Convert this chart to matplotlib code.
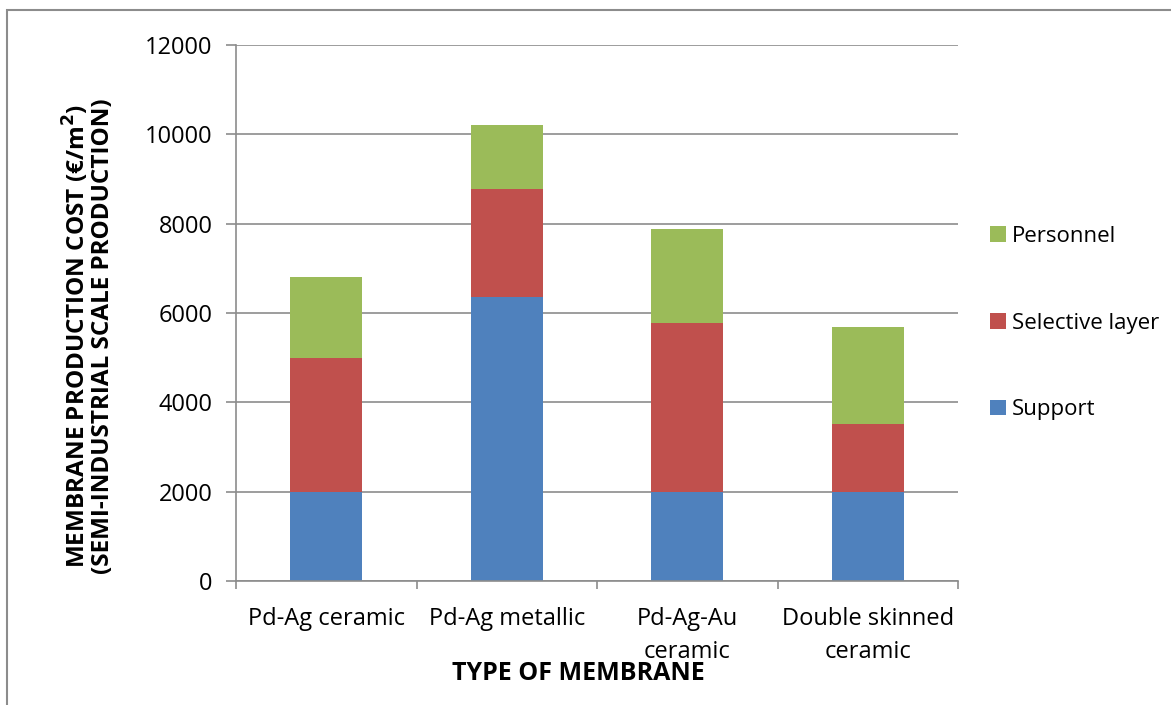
import numpy as np
import matplotlib.pyplot as plt
from matplotlib.patches import Rectangle

plt.rcParams['font.family'] = ['Open Sans', 'DejaVu Sans']

membranes = ['Pd-Ag ceramic', 'Pd-Ag metallic', 'Pd-Ag-Au\nceramic', 'Double skinned\nceramic']
support = [2000, 6350, 2000, 2000]
selective_layer = [3000, 2420, 3770, 1520]
personnel = [1800, 1430, 2110, 2160]

c_support = '#4f81bd'
c_selective = '#c0504d'
c_personnel = '#9bbb59'

fig = plt.figure(figsize=(11.71, 7.05), dpi=100)
ax = fig.add_axes([236 / 1171, 1 - 581 / 705, (958 - 236) / 1171, (581 - 45) / 705])

x = np.arange(len(membranes))
w = 0.4
b1 = ax.bar(x, support, w, color=c_support, label='Support')
bottom2 = np.array(support)
b2 = ax.bar(x, selective_layer, w, bottom=bottom2, color=c_selective, label='Selective layer')
bottom3 = bottom2 + np.array(selective_layer)
b3 = ax.bar(x, personnel, w, bottom=bottom3, color=c_personnel, label='Personnel')

ax.set_xlim(-0.5, len(membranes) - 0.5)
ax.set_ylim(0, 12000)
ax.set_yticks(np.arange(0, 12001, 2000))
ax.yaxis.grid(True, color='#8c8c8c', linewidth=1.2)
ax.set_axisbelow(True)
ax.set_xticks(x)
ax.set_xticklabels(membranes, fontsize=17, linespacing=1.5)
ax.set_xticks(np.arange(-0.5, len(membranes)), minor=True)
ax.tick_params(axis='x', which='major', length=0, pad=19)
ax.tick_params(axis='x', which='minor', length=6, color='#8c8c8c', width=1.2)
ax.tick_params(axis='y', labelsize=17, length=7, color='#8c8c8c', width=1.2, pad=10)
for s in ['top', 'right']:
    ax.spines[s].set_visible(False)
for s in ['left', 'bottom']:
    ax.spines[s].set_color('#8c8c8c')
    ax.spines[s].set_linewidth(1.2)

fig.text(578 / 1171, 1 - 674 / 705, 'TYPE OF MEMBRANE', ha='center', va='center',
         fontsize=18, fontweight='bold')
fig.text(88 / 1171, 1 - 336 / 705, 'MEMBRANE PRODUCTION COST (€/m$^\\mathbf{2}$)\n(SEMI-INDUSTRIAL SCALE PRODUCTION)',
         ha='center', va='center', rotation=90, fontsize=17.5, fontweight='bold', linespacing=0.95)

fig.legend(handles=[b3, b2, b1], loc='center left', bbox_to_anchor=(970 / 1171, 1 - 323 / 705),
           frameon=False, fontsize=16, handlelength=0.7, handleheight=0.7,
           handletextpad=0.3, labelspacing=2.95)

# outer chart border
fig.patches.append(Rectangle((7 / 1171, -0.1), 1.1, 1 - 10 / 705 + 0.1, transform=fig.transFigure,
                             fill=False, edgecolor='#8c8c8c', linewidth=1.5))

fig.savefig('out.png', dpi=100)
